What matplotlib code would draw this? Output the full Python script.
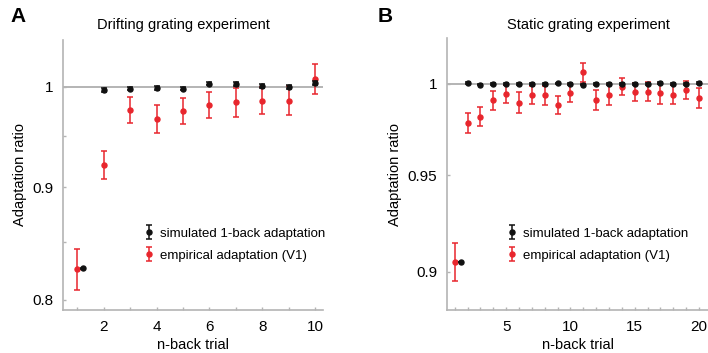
import matplotlib
matplotlib.use("Agg")
import matplotlib.pyplot as plt
from matplotlib.ticker import FixedLocator, FixedFormatter, NullLocator

plt.rcParams.update({"font.family": ["Liberation Sans", "DejaVu Sans"], "font.size": 10.5})

RED = "#e8262d"; BLK = "#111111"; GRID = "#b4b4b4"

# ---- panel A: drifting grating (n-back 1..10)
a_x_emp = [1, 2, 3, 4, 5, 6, 7, 8, 9, 10]
a_emp = [0.826, 0.921, 0.976, 0.967, 0.975, 0.981, 0.984, 0.9855, 0.9855, 1.008]
a_emp_err = [0.018, 0.0135, 0.0135, 0.014, 0.0135, 0.0135, 0.015, 0.014, 0.015, 0.0155]
a_x_sim = [1.22, 2, 3, 4, 5, 6, 7, 8, 9, 10]
a_sim = [0.827, 0.9965, 0.9976, 0.9986, 0.998, 1.003, 1.0025, 1.001, 1.0, 1.0035]
a_sim_err = [0.0005, 0.002, 0.0015, 0.002, 0.002, 0.0018, 0.002, 0.002, 0.002, 0.002]

# ---- panel B: static grating (n-back 1..20)
b_x_emp = list(range(1, 21))
b_emp = [0.905, 0.9783, 0.9818, 0.9908, 0.9944, 0.9895, 0.9938, 0.9936, 0.9883, 0.9951,
         1.0064, 0.9908, 0.994, 0.9985, 0.9955, 0.9957, 0.9946, 0.994, 0.9966, 0.9923]
b_emp_err = [0.0098, 0.0055, 0.0051, 0.0053, 0.0049, 0.0058, 0.0052, 0.0053, 0.0051, 0.005,
             0.0051, 0.0055, 0.006, 0.0049, 0.005, 0.0052, 0.0057, 0.0053, 0.005, 0.0055]
b_x_sim = [1.5] + list(range(2, 21))
b_sim = [0.905, 1.0005, 0.9996, 0.9998, 0.9999, 0.9999, 0.9998, 0.9999, 1.0002, 1.0001,
         0.9996, 0.9998, 0.9999, 1.0001, 0.9999, 0.9999, 1.0004, 0.9999, 0.9999, 1.0004]
b_sim_err = [0.0002] + [0.0005] * 19

fig = plt.figure(figsize=(7.08, 3.53), dpi=100)
axA = fig.add_axes([63 / 708, 43 / 353, 260 / 708, 270 / 353])
axB = fig.add_axes([447 / 708, 43 / 353, 261 / 708, 272 / 353])


def draw(ax, xe, ye, ee, xs, ys, es):
    ax.set_yscale("log")
    ax.axhline(1.0, color=GRID, lw=1.4, zorder=1)
    ax.errorbar(xs, ys, yerr=es, fmt="o", color=BLK, ms=3.6, capsize=2.5, elinewidth=1.1,
                capthick=1.1, zorder=3, label="simulated 1-back adaptation")
    ax.errorbar(xe, ye, yerr=ee, fmt="o", color=RED, ms=3.6, capsize=2.5, elinewidth=1.1,
                capthick=1.1, zorder=2, label="empirical adaptation (V1)")
    for s in ("top", "right"):
        ax.spines[s].set_visible(False)
    for s in ("left", "bottom"):
        ax.spines[s].set_color(GRID); ax.spines[s].set_linewidth(1.2)
    ax.tick_params(direction="in", color=GRID, length=2.5, width=1, labelsize=11, pad=7)
    ax.yaxis.set_minor_locator(NullLocator())
    ax.set_xlabel("n-back trial", fontsize=10.5, labelpad=3)
    ax.set_ylabel("Adaptation ratio", fontsize=10.5)


draw(axA, a_x_emp, a_emp, a_emp_err, a_x_sim, a_sim, a_sim_err)
axA.set_xlim(0.46, 10.3); axA.set_ylim(0.7915, 1.05)
axA.set_xticks(range(1, 11)); axA.set_xticklabels(["", "2", "", "4", "", "6", "", "8", "", "10"])
axA.yaxis.set_major_locator(FixedLocator([0.8, 0.85, 0.9, 0.95, 1.0]))
axA.yaxis.set_major_formatter(FixedFormatter(["0.8", "", "0.9", "", "1"]))

draw(axB, b_x_emp, b_emp, b_emp_err, b_x_sim, b_sim, b_sim_err)
axB.set_xlim(0.4, 20.7); axB.set_ylim(0.881, 1.026)
axB.set_xticks(range(1, 21))
axB.set_xticklabels([str(i) if i % 5 == 0 else "" for i in range(1, 21)])
axB.yaxis.set_major_locator(FixedLocator([0.9, 0.95, 1.0]))
axB.yaxis.set_major_formatter(FixedFormatter(["0.9", "0.95", "1"]))

for ax, lx in ((axA, 144 / 708), (axB, 507 / 708)):
    ax.legend(loc="center left", bbox_to_anchor=(lx, 1 - 244.5 / 353), bbox_transform=fig.transFigure,
              frameon=False, fontsize=9.5, handlelength=0.7, handletextpad=0.5,
              labelspacing=0.75, borderpad=0, borderaxespad=0)

fig.text(183 / 708, 1 - 25 / 353, "Drifting grating experiment", ha="center", va="center", fontsize=10.5)
fig.text(588 / 708, 1 - 25 / 353, "Static grating experiment", ha="center", va="center", fontsize=10.5)
fig.text(10 / 708, 1 - 16 / 353, "A", fontsize=15, fontweight="bold", va="center")
fig.text(378 / 708, 1 - 16 / 353, "B", fontsize=15, fontweight="bold", va="center")

fig.savefig("out.png", dpi=100)
